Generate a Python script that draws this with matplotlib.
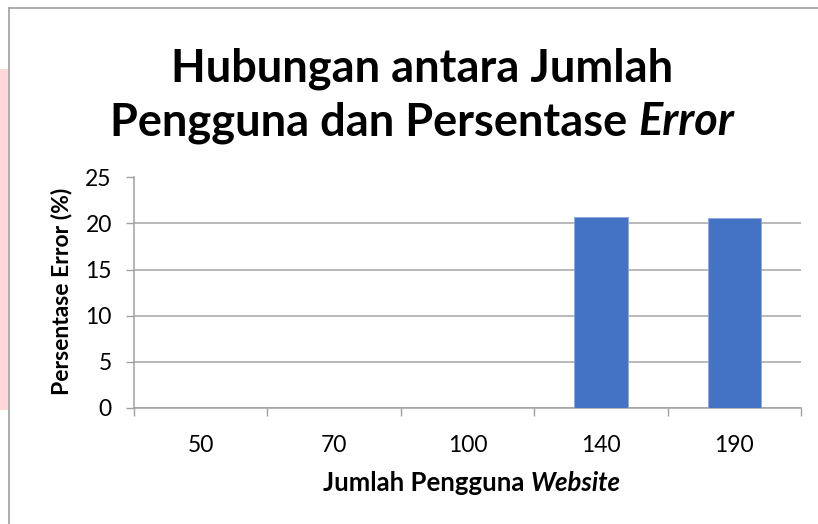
import matplotlib
matplotlib.use("Agg")
import matplotlib.pyplot as plt
import numpy as np
from matplotlib.patches import Rectangle
from matplotlib.lines import Line2D

categories = ["50", "70", "100", "140", "190"]
values = [0, 0, 0, 20.75, 20.6]
yticks = [0, 5, 10, 15, 20, 25]

FONT = "Lato"
W, H = 818, 524
fig = plt.figure(figsize=(W / 100, H / 100), dpi=100)
fig.patch.set_facecolor("white")

# pink strip and frame
fig.patches.append(Rectangle((0, 1 - 410 / H), 8 / W, (410 - 69) / H,
                             transform=fig.transFigure, facecolor="#FFD8DC",
                             edgecolor="none", zorder=0))
fig.lines.append(Line2D([8.5 / W, 8.5 / W], [0, 1 - 7.5 / H], transform=fig.transFigure,
                        color="#A0A0A0", lw=1.2))
fig.lines.append(Line2D([8.5 / W, 1], [1 - 7.5 / H, 1 - 7.5 / H], transform=fig.transFigure,
                        color="#A0A0A0", lw=1.2))

left, right, top, bottom = 134, 801, 177.5, 407.5
ax = fig.add_axes([left / W, 1 - bottom / H, (right - left) / W, (bottom - top) / H])
x = np.arange(len(categories)) + 0.5
ax.bar(x, values, width=0.4, color="#4472C4", edgecolor="#8FAADC", linewidth=0.6, zorder=3)
ax.set_xlim(0, len(categories))
ax.set_ylim(0, 25)
ax.set_yticks(yticks)
ax.set_yticklabels([str(t) for t in yticks], fontfamily=FONT, fontsize=16.5)
ax.set_xticks(np.arange(len(categories) + 1))
ax.set_xticklabels([])
ax.set_xticks(x, minor=True)
ax.set_xticklabels(categories, minor=True, fontfamily=FONT, fontsize=16.5)
ax.tick_params(axis="x", which="minor", length=0, pad=20)
ax.tick_params(axis="x", which="major", length=6, width=1, color="#A0A0A0", direction="out")
ax.tick_params(axis="y", length=6, width=1, color="#A0A0A0", direction="out", pad=10)
ax.grid(axis="y", color="#A6A6A6", linewidth=1.1, zorder=0)
ax.set_axisbelow(True)
for s in ["top", "right"]:
    ax.spines[s].set_visible(False)
for s in ["left", "bottom"]:
    ax.spines[s].set_color("#A0A0A0")
    ax.spines[s].set_linewidth(1.1)

ax.set_ylabel("Persentase Error (%)", fontfamily=FONT, fontweight="bold", fontsize=16.5)
ax.yaxis.set_label_coords(72 / W, 1 - 291 / H, transform=fig.transFigure)

renderer = fig.canvas.get_renderer()

def mixed(parts, cx, y_base, size):
    texts = []
    for t, style in parts:
        tt = fig.text(0, 1 - y_base / H, t, fontfamily=FONT, fontweight="bold",
                      fontstyle=style, fontsize=size, va="baseline", ha="left")
        texts.append(tt)
    widths = [tt.get_window_extent(renderer).width for tt in texts]
    total = sum(widths)
    xpos = cx - total / 2
    for tt, w in zip(texts, widths):
        tt.set_x(xpos / W)
        xpos += w

mixed([("Hubungan antara Jumlah", "normal")], 422, 82, 32.5)
mixed([("Pengguna dan Persentase ", "normal"), ("Error", "italic")], 422, 135, 32.5)
mixed([("Jumlah Pengguna ", "normal"), ("Website", "italic")], 472, 491, 18.5)

fig.savefig("out.png", dpi=100)
